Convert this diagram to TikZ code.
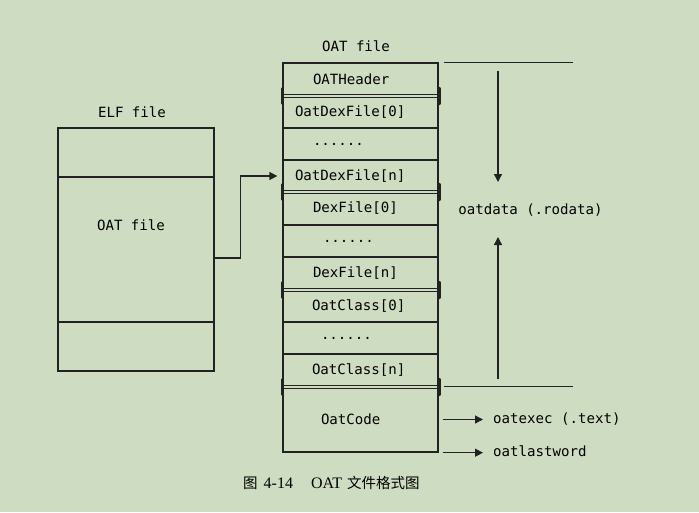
\documentclass[tikz,border=0pt]{standalone}
\usepackage{fontspec}
\setmonofont{DejaVu Sans Mono}
\newfontfamily\cjk{Noto Sans CJK SC}
\newfontfamily\capserif{Liberation Serif}
\usetikzlibrary{arrows.meta}
\definecolor{oatbg}{RGB}{206,221,194}
\definecolor{oatink}{RGB}{34,34,34}
\newcommand{\monofont}{\ttfamily\fontsize{14.1}{16}\selectfont}
\tikzset{
  rowline/.style   = {oatink,line width=1.4pt},
  rowbox/.style    = {draw=oatink,line width=1.4pt,minimum width=155pt,text width=155pt,
                      inner xsep=0pt,align=left,font=\monofont,text=black},
  elfbox/.style    = {draw=oatink,line width=1.4pt,minimum width=156pt,inner sep=0pt},
  plaintext/.style = {font=\monofont,inner sep=0pt,text=black},
  splitline/.style = {oatink,line width=1.2pt,double=oatbg,double distance=1.4pt},
  splitbar/.style  = {oatink,line width=3.4pt,line cap=round},
  vertarr/.style   = {-{Triangle[length=8pt,width=8pt]},oatink,line width=1.3pt},
  outarr/.style    = {-{Triangle[length=8pt,width=8pt]},oatink,line width=1.3pt,shorten >=10pt}
}
\newcommand{\oatrow}[5]{%
  \node[rowbox,minimum height=#3pt] (#1) at (360.5,#2) {\hspace*{#4pt}#5};
}
\newcommand{\secsplit}[1]{%
  \draw[splitline] (283,#1) -- (438,#1);
  \draw[splitbar] (282.2,#1-7.5) -- (282.2,#1+7.5) (438.8,#1-7.5) -- (438.8,#1+7.5);
}

\begin{document}
\begin{tikzpicture}[x=1pt,y=-1pt]
  \fill[oatbg] (0,0) rectangle (699,512);
  \useasboundingbox (0,0) rectangle (699,512);
  \node[plaintext] (elftitle) at (132,112) {ELF file};
  \node[elfbox,minimum height=49pt]  (elfhead) at (136,152.5) {};
  \node[elfbox,minimum height=145pt] (elfoat)  at (136,249.5) {};
  \node[elfbox,minimum height=49pt]  (elftail) at (136,346.5) {};
  \node[plaintext] (elfoattxt) at (131,225) {OAT file};
  \node[plaintext] (oattitle) at (356,46) {OAT file};
  \oatrow{hdr}{79.5}{33}{30}{OATHeader}
  \oatrow{odf0}{112}{32}{12}{OatDexFile[0]}
  \oatrow{odfdots}{144}{32}{30}{......}
  \oatrow{odfn}{176}{32}{12}{OatDexFile[n]}
  \oatrow{df0}{208.5}{33}{30}{DexFile[0]}
  \oatrow{dfdots}{241}{32}{40}{......}
  \oatrow{dfn}{273.5}{33}{30}{DexFile[n]}
  \oatrow{oc0}{306}{32}{29}{OatClass[0]}
  \oatrow{ocdots}{338}{32}{38}{......}
  \oatrow{ocn}{370.5}{33}{29}{OatClass[n]}
  \oatrow{code}{419.5}{65}{38}{OatCode}
  \secsplit{96}
  \secsplit{192}
  \secsplit{290}
  \secsplit{387}
  \draw[rowline,-{Triangle[length=8pt,width=8pt]},shorten >=5pt]
    ([yshift=-8.5pt]elfoat.east) -- ++(26,0) |- (odfn.west);
  \draw[rowline] ([xshift=5pt]hdr.north east) -- ++(129,0);
  \draw[rowline] ([xshift=5pt]code.north east) -- ++(129,0);
  \node[plaintext] (rodata) at (530.5,210) {oatdata (.rodata)};
  \coordinate (dtop) at (498,71);
  \coordinate (dtip) at (498,182);
  \coordinate (utip) at (498,237);
  \coordinate (ubot) at (498,379);
  \draw[vertarr] (dtop) -- (dtip);
  \draw[vertarr] (ubot) -- (utip);
  \node[plaintext,anchor=west] (exectxt) at (493,419.5) {oatexec (.text)};
  \node[plaintext,anchor=west] (lasttxt) at (493,451.5) {oatlastword};
  \draw[outarr] ([xshift=4pt]code.east) -- (code.east -| exectxt.west);
  \draw[outarr] ([xshift=4pt]code.south east) -- (code.south east -| lasttxt.west);
  \node[anchor=west,inner sep=0pt] (caption) at (243,483)
    {{\cjk\fontsize{14.5}{16}\selectfont 图}\hspace{6pt}{\capserif\fontsize{16}{16}\selectfont 4-14}%
     \hspace{18pt}{\capserif\fontsize{16}{16}\selectfont OAT}\hspace{5pt}%
     {\cjk\fontsize{14.5}{16}\selectfont 文件格式图}};
\end{tikzpicture}
\end{document}
